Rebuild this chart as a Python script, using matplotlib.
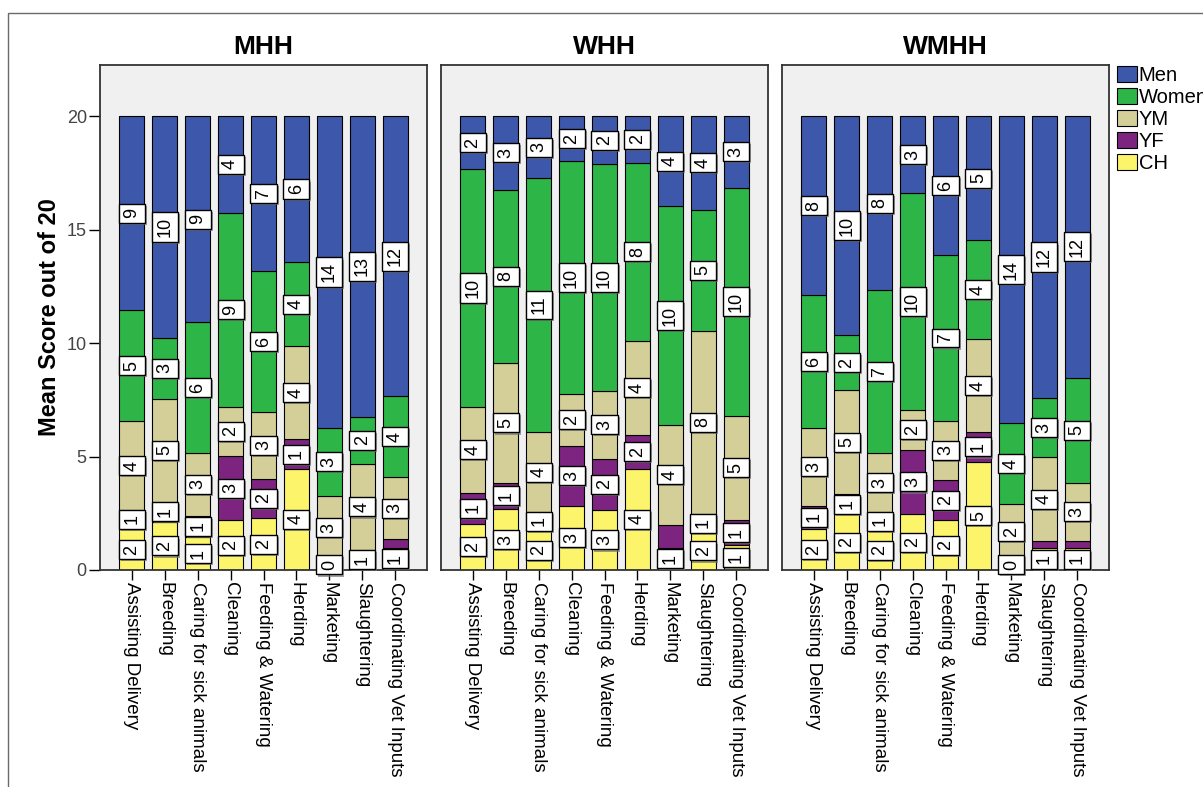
# Mean score out of 20 per task, split by household member, for MHH / WHH / WMHH
# Stacked bar chart in three panels

import numpy as np
import matplotlib.pyplot as plt
import matplotlib.patheffects as pe
from matplotlib.patches import Patch, Rectangle

plt.rcParams['font.family'] = ['Liberation Sans', 'DejaVu Sans']

# Data
tasks = ["Assisting Delivery", "Breeding", "Caring for sick animals", "Cleaning",
         "Feeding & Watering", "Herding", "Marketing", "Slaughtering",
         "Coordinating Vet Inputs"]
groups = ["MHH", "WHH", "WMHH"]

# MHH
mhh_ch = [1.80, 2.12, 1.44, 2.19, 2.28, 4.45, 0.45, 0.89, 0.99]
mhh_yf = [0.85, 0.88, 0.96, 2.84, 1.75, 1.32, 0.00, 0.00, 0.36]
mhh_ym = [3.90, 4.54, 2.74, 2.17, 2.92, 4.08, 2.82, 3.78, 2.73]
mhh_women = [4.90, 2.69, 5.78, 8.55, 6.22, 3.72, 2.99, 2.08, 3.57]
mhh_men = [8.55, 9.77, 9.08, 4.25, 6.83, 6.43, 13.74, 13.25, 12.35]

# WHH
whh_ch = [2.04, 2.68, 1.75, 2.83, 2.65, 4.45, 0.98, 1.68, 1.10]
whh_yf = [1.37, 1.17, 0.79, 2.64, 2.26, 1.51, 1.01, 0.78, 1.10]
whh_ym = [3.79, 5.26, 3.55, 2.29, 2.99, 4.15, 4.41, 8.09, 4.60]
whh_women = [10.45, 7.65, 11.16, 10.25, 9.97, 7.83, 9.63, 5.33, 10.05]
whh_men = [2.35, 3.24, 2.75, 1.99, 2.13, 2.06, 3.97, 4.12, 3.15]

# WMHH
wmhh_ch = [1.80, 2.45, 1.76, 2.46, 2.19, 4.78, 0.47, 0.96, 0.96]
wmhh_yf = [1.03, 0.90, 0.78, 2.84, 1.77, 1.28, 0.00, 0.32, 0.33]
wmhh_ym = [3.43, 4.56, 2.60, 1.75, 2.62, 4.12, 2.45, 3.68, 2.56]
wmhh_women = [5.84, 2.45, 7.18, 9.54, 7.28, 4.35, 3.54, 2.62, 4.63]
wmhh_men = [7.90, 9.64, 7.68, 3.41, 6.14, 5.47, 13.54, 12.42, 11.52]

# stacked bottom to top
series_names = ["CH", "YF", "YM", "Women", "Men"]
panel_data = {
    "MHH": [mhh_ch, mhh_yf, mhh_ym, mhh_women, mhh_men],
    "WHH": [whh_ch, whh_yf, whh_ym, whh_women, whh_men],
    "WMHH": [wmhh_ch, wmhh_yf, wmhh_ym, wmhh_women, wmhh_men],
}
colors = {"Men": "#3D58AB", "Women": "#2EB548", "YM": "#D4CF98",
          "YF": "#7C2480", "CH": "#FCF56C"}

W, H = 1203, 787
fig = plt.figure(figsize=(W / 100, H / 100), dpi=100)

# outer frame
fig.add_artist(Rectangle((8 / W, -0.01), 1.0, 1 - 13 / H + 0.01, transform=fig.transFigure,
                         fill=False, edgecolor="#6a6a6a", linewidth=1))

lefts = [100, 441, 782]
x = np.arange(len(tasks))

for i, g in enumerate(groups):
    ax = fig.add_axes([lefts[i] / W, 1 - 570 / H, 327 / W, 505 / H])
    ax.set_facecolor("#F0F0F0")
    bottom = np.zeros(len(tasks))
    label_pos = [[] for _ in tasks]
    for name, vals in zip(series_names, panel_data[g]):
        vals = np.array(vals)
        ax.bar(x, vals, 0.76, bottom=bottom, color=colors[name],
               edgecolor="black", linewidth=0.8, zorder=2)
        for j, v in enumerate(vals):
            if v <= 0:
                continue
            yc = bottom[j] + v / 2
            # hide labels that would crowd the one below
            if label_pos[j] and yc - label_pos[j][-1] < 1.05:
                continue
            label_pos[j].append(yc)
            t = ax.text(x[j], yc, str(int(np.floor(v + 0.5))), rotation=90,
                        ha="center", va="center", fontsize=13, zorder=5,
                        bbox=dict(boxstyle="square,pad=0.25", fc="white",
                                  ec="black", lw=1))
            t.get_bbox_patch().set_path_effects(
                [pe.SimplePatchShadow(offset=(1.5, -1.5), shadow_rgbFace="#777777", alpha=0.7),
                 pe.Normal()])
        bottom = bottom + vals

    ax.set_xlim(-0.97, 8.97)
    ax.set_ylim(0, 22.25)
    ax.set_xticks(x)
    ax.set_xticklabels(tasks, rotation=-90, fontsize=13.5, ha="center", va="top")
    ax.tick_params(axis="x", direction="out", length=7, width=1, pad=2)
    if i == 0:
        ax.set_yticks([0, 5, 10, 15, 20])
        ax.tick_params(axis="y", direction="out", length=8, width=1, pad=1.5,
                       labelsize=13, labelcolor="#444444")
        ax.set_ylabel("Mean Score out of 20", fontsize=17, fontweight="bold", labelpad=4)
    else:
        ax.set_yticks([])
    for s in ax.spines.values():
        s.set_color("#333333")
        s.set_linewidth(1.3)
    ax.set_title(g, fontsize=19, fontweight="bold", pad=8)

# legend, top to bottom
handles = [Patch(facecolor=colors[n], edgecolor="black", linewidth=0.8)
           for n in ["Men", "Women", "YM", "YF", "CH"]]
fig.legend(handles, ["Men", "Women", "YM", "YF", "CH"], loc="upper left",
           bbox_to_anchor=(1117 / W, 1 - 66 / H), frameon=False, fontsize=14.5,
           handlelength=1.0, handleheight=0.85, handletextpad=0.08,
           labelspacing=0.15, borderaxespad=0, borderpad=0)

plt.savefig("out.png", dpi=100)
